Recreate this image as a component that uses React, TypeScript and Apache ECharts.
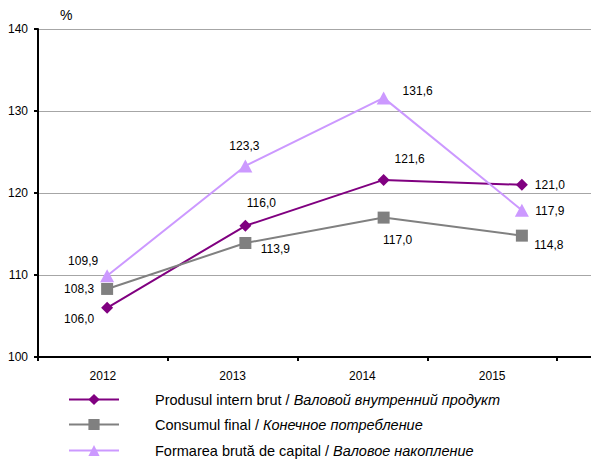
import React, { useEffect, useRef } from "react";
import * as echarts from "echarts";

const years = ["2012", "2013", "2014", "2015"];
const pib = [106.0, 116.0, 121.6, 121.0];
const consum = [108.3, 113.9, 117.0, 114.8];
const formarea = [109.9, 123.3, 131.6, 117.9];
const yTicks = { min: 100, max: 140, interval: 10 };

const seriesNames = [
  ["Produsul intern brut / ", "Валовой внутренний продукт"],
  ["Consumul final / ", "Конечное потребление"],
  ["Formarea brută de capital / ", "Валовое накопление"],
];

// label offsets (style)
const pibOff = [[-28, 11], [16, -23], [26, -21], [28, 0]];
const consumOff = [[-28, 0], [30, 6], [14, 22], [27, 9]];
const formOff = [[-24, -15], [-1, -20], [34, -7], [28, 1]];
const legendTops = [392, 417, 443];

const FONT = "'Liberation Sans', Arial, sans-serif";

function mk(values: number[], offs: number[][]) {
  return values.map((v, i) => ({
    value: v,
    label: { offset: offs[i] },
  }));
}

export default function App() {
  const ref = useRef<HTMLDivElement>(null);
  useEffect(() => {
    if (!ref.current) return;
    document.body.style.margin = "0";
    document.body.style.overflow = "hidden";
    const chart = echarts.init(ref.current, null, { renderer: "svg" });
    const labelCfg = {
      show: true,
      position: "inside",
      color: "#000",
      fontSize: 12,
      fontFamily: FONT,
      formatter: (p: any) => Number(p.value).toFixed(1).replace(".", ","),
    };
    const fullName = (i: number) => seriesNames[i][0] + seriesNames[i][1];
    const mkSeries = (
      idx: number,
      values: number[],
      offs: number[][],
      color: string,
      symbol: string,
      size: any
    ) => ({
      type: "line",
      name: fullName(idx),
      xAxisIndex: 0,
      yAxisIndex: 0,
      data: mk(values, offs),
      symbol,
      symbolSize: size,
      showAllSymbol: true,
      lineStyle: { color, width: 2 },
      itemStyle: { color },
      label: labelCfg,
      z: 3 + idx,
    });
    const legends = seriesNames.map((s, i) => ({
      orient: "horizontal",
      left: 68,
      top: legendTops[i],
      padding: 0,
      itemWidth: 50,
      itemHeight: 14,
      data: [fullName(i)],
      formatter: () => `{a|${s[0]}}{b|${s[1]}}`,
      textStyle: {
        color: "#000",
        fontSize: 14.5,
        fontFamily: FONT,
        rich: {
          a: { fontSize: 14.5, fontFamily: FONT, color: "#000", padding: [0, 0, 0, 31] },
          b: { fontSize: 14.5, fontFamily: FONT, color: "#000", fontStyle: "italic" },
        },
      },
    }));
    chart.setOption({
      animation: false,
      backgroundColor: "#fff",
      textStyle: { fontFamily: FONT },
      grid: [
        { left: 38, top: 29, bottom: 102, width: 556 },
        { left: 38, top: 29, bottom: 102, width: 519 },
      ],
      xAxis: [
        {
          type: "category",
          gridIndex: 0,
          data: years,
          boundaryGap: true,
          axisLine: { show: true, lineStyle: { color: "#000", width: 2 } },
          axisTick: { show: false },
          axisLabel: { show: false },
          splitLine: { show: false },
        },
        {
          type: "category",
          gridIndex: 1,
          data: years,
          boundaryGap: true,
          axisLine: { show: false },
          axisTick: { show: true, length: 4, lineStyle: { color: "#000", width: 2 } },
          axisLabel: { color: "#000", fontSize: 12, fontFamily: FONT, margin: 13 },
          splitLine: { show: false },
        },
      ],
      yAxis: [
        {
          type: "value",
          gridIndex: 0,
          min: yTicks.min,
          max: yTicks.max,
          interval: yTicks.interval,
          axisLine: { show: true, lineStyle: { color: "#000", width: 2 } },
          axisTick: { show: true, length: 4, lineStyle: { color: "#000", width: 2 } },
          axisLabel: { color: "#000", fontSize: 12, fontFamily: FONT, margin: 10 },
          splitLine: { show: true, lineStyle: { color: "#a6a6a6", width: 1 } },
        },
        {
          type: "value",
          gridIndex: 1,
          min: yTicks.min,
          max: yTicks.max,
          show: false,
        },
      ],
      legend: legends,
      graphic: [
        {
          type: "text",
          left: 60,
          top: 8,
          style: { text: "%", fontSize: 14, fontFamily: FONT, fill: "#000" },
        },
      ],
      series: [
        mkSeries(0, pib, pibOff, "#800080", "diamond", [12, 12]),
        mkSeries(1, consum, consumOff, "#808080", "rect", [12, 12]),
        mkSeries(2, formarea, formOff, "#cc99ff", "triangle", [14, 13]),
      ],
    });
    return () => chart.dispose();
  }, []);
  return <div ref={ref} style={{ width: 591, height: 459 }} />;
}
